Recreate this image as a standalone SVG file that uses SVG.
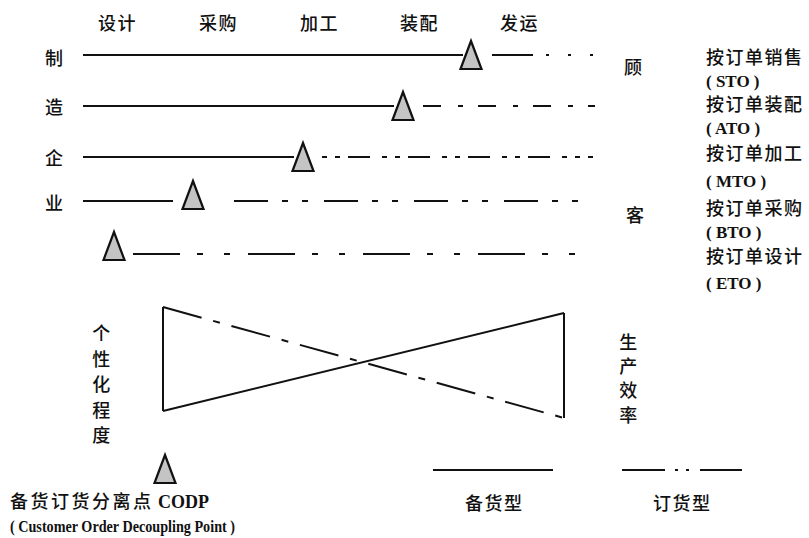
<svg xmlns="http://www.w3.org/2000/svg" width="809" height="538" viewBox="0 0 809 538">
<style>
  .cjk { font-family: "Noto Sans CJK SC", "Noto Sans", sans-serif; font-size: 18px; font-weight: 500; fill: #111; letter-spacing: 1.5px; }
  .lat { font-family: "Liberation Serif", "Times New Roman", serif; font-size: 17px; font-weight: bold; fill: #111; }
  .ln { stroke: #111; stroke-width: 2; fill: none; }
  .tri { fill: #c4c4c4; stroke: #111; stroke-width: 2.2; stroke-linejoin: miter; }
</style>
<defs>
  <polygon id="tri" class="tri" points="0,0 -10.5,28 10.5,28"/>
</defs>
<rect width="809" height="538" fill="#fff"/>

<g id="stage-labels" class="cjk">
  <text x="98" y="30">设计</text>
  <text x="199" y="30">采购</text>
  <text x="300" y="30">加工</text>
  <text x="400" y="30">装配</text>
  <text x="500" y="30">发运</text>
</g>

<g id="enterprise-label" class="cjk">
  <text x="45" y="65">制</text>
  <text x="45" y="114">造</text>
  <text x="45" y="165">企</text>
  <text x="45" y="210">业</text>
</g>

<g id="customer-label" class="cjk">
  <text x="624" y="74">顾</text>
  <text x="626" y="222">客</text>
</g>

<g id="modes">
  <text class="cjk" x="706" y="64">按订单销售</text>
  <text class="lat" x="706" y="87">( STO )</text>
  <text class="cjk" x="706" y="111">按订单装配</text>
  <text class="lat" x="706" y="134">( ATO )</text>
  <text class="cjk" x="706" y="160">按订单加工</text>
  <text class="lat" x="706" y="187">( MTO )</text>
  <text class="cjk" x="706" y="215">按订单采购</text>
  <text class="lat" x="706" y="238">( BTO )</text>
  <text class="cjk" x="706" y="263">按订单设计</text>
  <text class="lat" x="706" y="289">( ETO )</text>
</g>

<g id="connectors">
  <!-- row 1 STO -->
  <line class="ln" x1="83" y1="55" x2="463" y2="55"/>
  <line class="ln" x1="492" y1="55" x2="533" y2="55"/>
  <line class="ln" x1="546" y1="55" x2="595" y2="55" stroke-dasharray="3 19"/>
  <!-- row 2 ATO -->
  <line class="ln" x1="83" y1="106" x2="394" y2="106"/>
  <line class="ln" x1="423" y1="106" x2="595" y2="106" stroke-dasharray="18 17 5 15"/>
  <!-- row 3 MTO -->
  <line class="ln" x1="83" y1="157" x2="294" y2="157"/>
  <line class="ln" x1="322" y1="157" x2="593" y2="157" stroke-dasharray="5 8 5 8 22 12"/>
  <!-- row 4 BTO -->
  <line class="ln" x1="83" y1="201" x2="173" y2="201"/>
  <line class="ln" x1="234" y1="201" x2="594" y2="201" stroke-dasharray="34 14 6 14 6 16"/>
  <!-- row 5 ETO -->
  <line class="ln" x1="133" y1="254" x2="576" y2="254" stroke-dasharray="47 17 6 21 6 18"/>
</g>

<g id="codp-markers">
  <use href="#tri" x="471" y="41"/>
  <use href="#tri" x="403" y="92"/>
  <use href="#tri" x="303" y="143"/>
  <use href="#tri" x="193" y="181"/>
  <use href="#tri" x="114" y="232"/>
</g>

<g id="bowtie">
  <line class="ln" x1="163" y1="307" x2="163" y2="411"/>
  <line class="ln" x1="564" y1="313" x2="564" y2="418"/>
  <line class="ln" x1="163" y1="411" x2="564" y2="313"/>
  <line class="ln" x1="163" y1="307" x2="564" y2="418" stroke-dasharray="40 12 7 12"/>
</g>

<g id="personalization" class="cjk" text-anchor="middle">
  <text x="102" y="340">个</text>
  <text x="102" y="366">性</text>
  <text x="102" y="391">化</text>
  <text x="102" y="417">程</text>
  <text x="102" y="442">度</text>
</g>

<g id="efficiency" class="cjk" text-anchor="middle">
  <text x="629" y="349">生</text>
  <text x="629" y="373">产</text>
  <text x="629" y="397">效</text>
  <text x="629" y="422">率</text>
</g>

<g id="codp-legend">
  <use href="#tri" x="165" y="455"/>
  <text x="10" y="508"><tspan class="cjk" style="letter-spacing:2.5px">备货订货分离点</tspan><tspan class="lat" style="font-size:18px"> CODP</tspan></text>
  <text class="lat" x="10" y="532" style="font-size:16px" textLength="225" lengthAdjust="spacingAndGlyphs">( Customer Order Decoupling Point )</text>
</g>

<g id="line-legend">
  <line class="ln" x1="433" y1="470" x2="553" y2="470"/>
  <text class="cjk" x="465" y="510">备货型</text>
  <line class="ln" x1="622" y1="470" x2="742" y2="470" stroke-dasharray="43 10 3 8 3 11"/>
  <text class="cjk" x="653" y="510">订货型</text>
</g>
</svg>
